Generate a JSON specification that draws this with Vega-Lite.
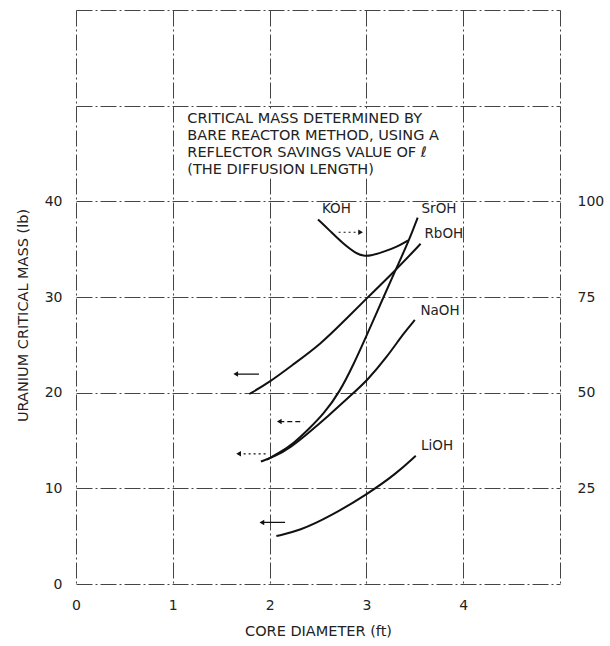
{
  "$schema": "https://vega.github.io/schema/vega-lite/v6.json",
  "width": 484,
  "height": 574,
  "autosize": {"type": "none"},
  "padding": {"left": 76, "top": 10, "right": 50, "bottom": 62},
  "background": "white",
  "config": {
    "view": {"stroke": null},
    "font": "DejaVu Sans",
    "axis": {
      "grid": true,
      "gridColor": "#444444",
      "gridDash": [16, 3, 2, 3],
      "gridWidth": 1,
      "domain": false,
      "ticks": false,
      "labelFont": "DejaVu Sans",
      "labelFontSize": 14,
      "labelColor": "#222222",
      "labelFlush": false,
      "labelOverlap": false,
      "titleFont": "DejaVu Sans",
      "titleFontSize": 14.5,
      "titleFontWeight": "normal",
      "titleColor": "#222222"
    }
  },
  "datasets": {
    "curves": [
      {"series": "KOH", "x": 2.50, "y": 38.1},
      {"series": "KOH", "x": 2.62, "y": 36.95},
      {"series": "KOH", "x": 2.76, "y": 35.56},
      {"series": "KOH", "x": 2.90, "y": 34.5},
      {"series": "KOH", "x": 2.97, "y": 34.3},
      {"series": "KOH", "x": 3.04, "y": 34.3},
      {"series": "KOH", "x": 3.17, "y": 34.69},
      {"series": "KOH", "x": 3.31, "y": 35.21},
      {"series": "KOH", "x": 3.43, "y": 35.91},
      {"series": "SrOH", "x": 1.97, "y": 13.0},
      {"series": "SrOH", "x": 2.10, "y": 13.7},
      {"series": "SrOH", "x": 2.25, "y": 14.7},
      {"series": "SrOH", "x": 2.41, "y": 16.25},
      {"series": "SrOH", "x": 2.56, "y": 17.8},
      {"series": "SrOH", "x": 2.72, "y": 20.0},
      {"series": "SrOH", "x": 2.87, "y": 23.0},
      {"series": "SrOH", "x": 3.01, "y": 26.15},
      {"series": "SrOH", "x": 3.16, "y": 29.6},
      {"series": "SrOH", "x": 3.30, "y": 32.8},
      {"series": "SrOH", "x": 3.44, "y": 35.9},
      {"series": "SrOH", "x": 3.53, "y": 38.3},
      {"series": "NaOH", "x": 1.91, "y": 12.8},
      {"series": "NaOH", "x": 2.05, "y": 13.3},
      {"series": "NaOH", "x": 2.22, "y": 14.3},
      {"series": "NaOH", "x": 2.39, "y": 15.7},
      {"series": "NaOH", "x": 2.60, "y": 17.5},
      {"series": "NaOH", "x": 2.87, "y": 20.0},
      {"series": "NaOH", "x": 3.01, "y": 21.3},
      {"series": "NaOH", "x": 3.21, "y": 23.7},
      {"series": "NaOH", "x": 3.38, "y": 26.15},
      {"series": "NaOH", "x": 3.50, "y": 27.6},
      {"series": "RbOH", "x": 1.79, "y": 19.86},
      {"series": "RbOH", "x": 2.0, "y": 21.1},
      {"series": "RbOH", "x": 2.25, "y": 23.0},
      {"series": "RbOH", "x": 2.53, "y": 25.1},
      {"series": "RbOH", "x": 2.77, "y": 27.5},
      {"series": "RbOH", "x": 3.0, "y": 29.83},
      {"series": "RbOH", "x": 3.30, "y": 32.78},
      {"series": "RbOH", "x": 3.56, "y": 35.56},
      {"series": "LiOH", "x": 2.07, "y": 5.01},
      {"series": "LiOH", "x": 2.31, "y": 5.57},
      {"series": "LiOH", "x": 2.62, "y": 7.03},
      {"series": "LiOH", "x": 3.02, "y": 9.46},
      {"series": "LiOH", "x": 3.31, "y": 11.55},
      {"series": "LiOH", "x": 3.51, "y": 13.4}
    ],
    "arrows": [
      {"x": 2.94, "x2": 2.71, "y": 36.77, "style": "dotted", "dir": "right"},
      {"x": 1.65, "x2": 1.89, "y": 21.94, "style": "solid", "dir": "left"},
      {"x": 2.10, "x2": 2.35, "y": 16.98, "style": "dashed", "dir": "left"},
      {"x": 1.68, "x2": 1.96, "y": 13.61, "style": "dotted", "dir": "left"},
      {"x": 1.92, "x2": 2.16, "y": 6.44, "style": "solid", "dir": "left"}
    ],
    "labels": [
      {"name": "KOH", "x": 2.69, "y": 39.2},
      {"name": "SrOH", "x": 3.75, "y": 39.25},
      {"name": "RbOH", "x": 3.80, "y": 36.6},
      {"name": "NaOH", "x": 3.76, "y": 28.5},
      {"name": "LiOH", "x": 3.73, "y": 14.4}
    ],
    "note": [
      {"x": 1.15, "y": 48.64, "text": "CRITICAL MASS DETERMINED BY"},
      {"x": 1.15, "y": 46.87, "text": "BARE REACTOR METHOD, USING A"},
      {"x": 1.15, "y": 45.09, "text": "REFLECTOR SAVINGS VALUE OF ℓ"},
      {"x": 1.15, "y": 43.32, "text": "(THE DIFFUSION LENGTH)"}
    ],
    "box": [
      {"x": 1.1, "x2": 3.88, "y": 42.4, "y2": 49.7}
    ]
  },
  "encoding": {
    "x": {
      "field": "x",
      "type": "quantitative",
      "scale": {"domain": [0, 5], "nice": false, "zero": false},
      "axis": {
        "values": [0, 1, 2, 3, 4, 5],
        "labelExpr": "datum.value <= 4 ? datum.label : ''",
        "title": "CORE DIAMETER (ft)",
        "labelPadding": 14,
        "titlePadding": 12
      }
    },
    "y": {
      "field": "y",
      "type": "quantitative",
      "scale": {"domain": [0, 60], "nice": false, "zero": false},
      "axis": {
        "values": [0, 10, 20, 30, 40, 50, 60],
        "labelExpr": "datum.value <= 40 ? datum.label : ''",
        "title": "URANIUM CRITICAL MASS (lb)",
        "labelPadding": 14,
        "titlePadding": 14,
        "titleY": 305
      }
    }
  },
  "layer": [
    {
      "layer": [
        {
          "data": {"name": "box"},
          "mark": {"type": "rect", "fill": "white", "stroke": null},
          "encoding": {
            "x2": {"field": "x2"},
            "y2": {"field": "y2"}
          }
        },
        {
          "data": {"name": "curves"},
          "mark": {"type": "line", "interpolate": "basis", "color": "#111111", "strokeWidth": 2},
          "encoding": {
            "detail": {"field": "series", "type": "nominal"}
          }
        },
        {
          "data": {"name": "arrows"},
          "mark": {"type": "rule", "color": "#111111", "strokeWidth": 1.2},
          "encoding": {
            "x2": {"field": "x2"},
            "strokeDash": {
              "field": "style",
              "type": "nominal",
              "scale": {"domain": ["solid", "dashed", "dotted"], "range": [[1, 0], [5, 3], [2, 3]]},
              "legend": null
            }
          }
        },
        {
          "data": {"name": "arrows"},
          "mark": {"type": "point", "filled": true, "color": "#111111", "size": 30, "opacity": 1},
          "encoding": {
            "shape": {
              "field": "dir",
              "type": "nominal",
              "scale": {"domain": ["left", "right"], "range": ["triangle-left", "triangle-right"]},
              "legend": null
            }
          }
        },
        {
          "data": {"name": "note"},
          "mark": {"type": "text", "align": "left", "baseline": "middle", "font": "DejaVu Sans", "fontSize": 14.5, "color": "#222222"},
          "encoding": {
            "text": {"field": "text", "type": "nominal"}
          }
        }
      ]
    },
    {
      "data": {"name": "labels"},
      "mark": {"type": "text", "align": "center", "baseline": "middle", "font": "DejaVu Sans", "fontSize": 13.5, "color": "#222222"},
      "encoding": {
        "text": {"field": "name", "type": "nominal"},
        "y": {
          "field": "y",
          "type": "quantitative",
          "scale": {"domain": [0, 60], "nice": false, "zero": false},
          "axis": {
            "orient": "right",
            "values": [10, 20, 30, 40],
            "labelExpr": "'' + (datum.value * 2.5)",
            "grid": false,
            "domain": false,
            "ticks": false,
            "title": null,
            "labelPadding": 17
          }
        }
      }
    }
  ],
  "resolve": {"axis": {"y": "independent"}}
}
